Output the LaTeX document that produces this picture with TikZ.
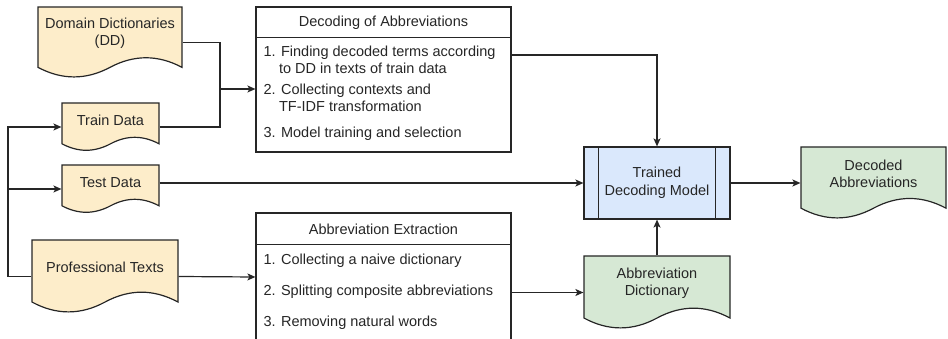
\documentclass[tikz,border=0pt]{standalone}
\usepackage{fontspec}
\setmainfont{Liberation Sans}
\usepackage{tikz}
\usetikzlibrary{arrows.meta}

\definecolor{linegray}{RGB}{38,38,38}
\definecolor{docyellow}{RGB}{253,237,202}
\definecolor{docgreen}{RGB}{214,232,212}
\definecolor{modelblue}{RGB}{218,232,252}

\tikzset{
    doctext/.style={align=center, inner sep=0pt},
    stepbox/.style={draw, fill=white, inner sep=0pt},
    hdr/.style={inner sep=0pt},
    item/.style={anchor=west, align=left, inner sep=0pt},
}

% document shape with a wavy bottom: name, left, top, width, height, fill, text
\newcommand{\docnode}[7]{%
    \filldraw[fill=#6] (#2,#3) -- (#2+#4,#3) -- (#2+#4,#3+0.85*#5)
        .. controls (#2+0.8333*#4,#3+0.67*#5) and (#2+0.6667*#4,#3+0.67*#5) .. (#2+0.5*#4,#3+0.85*#5)
        .. controls (#2+0.3333*#4,#3+1.03*#5) and (#2+0.1667*#4,#3+1.03*#5) .. (#2,#3+0.85*#5) -- cycle;
    \node[minimum width=#4pt, minimum height=#5pt, inner sep=0pt] (#1) at (#2+0.5*#4,#3+0.5*#5) {};
    \node[doctext] (#1-txt) at ([yshift=0.13*#5pt]#1.center) {#7};
}

\begin{document}
\begin{tikzpicture}[x=1pt, y=-1pt, color=linegray, line width=1.2pt,
    font=\fontsize{14.5}{17.5}\selectfont, >={Stealth[length=8pt, width=7pt, inset=2pt]}]
    \useasboundingbox (0,0) rectangle (948,339);

    \docnode{dd}{38}{7}{144}{71}{docyellow}{Domain Dictionaries\\(DD)}
    \docnode{train}{62}{103}{97}{48}{docyellow}{Train Data}
    \docnode{test}{62}{165}{97}{48}{docyellow}{Test Data}
    \docnode{prof}{32}{240}{146}{73}{docyellow}{Professional Texts}
    \docnode{decab}{801}{147}{145}{72}{docgreen}{Decoded\\Abbreviations}
    \docnode{abbr}{584}{256}{146}{73}{docgreen}{Abbreviation\\Dictionary}

    \node[stepbox, minimum width=255pt, minimum height=145pt] (dec) at (383.5,79.5) {};
    \draw (dec.north west) ++(0,31) -- ++(255,0);
    \node[hdr] (dec-hdr) at (383.5,23) {Decoding of Abbreviations};
    \node[item] (dec-1) at (263,60) {1. Finding decoded terms according\\\hspace*{15.5pt}to DD in texts of train data};
    \node[item] (dec-2) at (263,98) {2. Collecting contexts and\\\hspace*{15.5pt}TF-IDF transformation};
    \node[item] (dec-3) at (263,134) {3. Model training and selection};

    \node[stepbox, minimum width=255pt, minimum height=128pt] (ext) at (383.5,277) {};
    \draw (ext.north west) ++(0,32) -- ++(255,0);
    \node[hdr] (ext-hdr) at (383.5,229) {Abbreviation Extraction};
    \node[item] (ext-1) at (263,261) {1. Collecting a naive dictionary};
    \node[item] (ext-2) at (263,292) {2. Splitting composite abbreviations};
    \node[item] (ext-3) at (263,323) {3. Removing natural words};

    \node[draw, fill=modelblue, minimum width=146pt, minimum height=72pt, align=center] (model) at (657,183) {Trained\\Decoding Model};
    \draw ([xshift=15pt]model.north west) -- ([xshift=15pt]model.south west);
    \draw ([xshift=-15pt]model.north east) -- ([xshift=-15pt]model.south east);

    \coordinate (join) at (220,89);
    \coordinate (bus) at (8,127);
    \coordinate (decout) at (511,55);
    \draw (dd.east) -| (join);
    \draw (train.east) -| (join);
    \draw[->] (join) -- (join -| dec.west);
    \draw[->] (prof.west) -| (bus) -- (train.west);
    \draw[->] (test.west -| bus) -- (test.west);
    \draw[->] (test.east |- model.west) -- (model.west);
    \draw[->] (decout) -| (model.north);
    \draw[->] (model.east) -- (decab.west);
    \draw[->] (prof.east) -- (ext.west);
    \draw[->] (abbr.west -| ext.east) -- (abbr.west);
    \draw[->] (abbr.north) -- (model.south);
\end{tikzpicture}
\end{document}
